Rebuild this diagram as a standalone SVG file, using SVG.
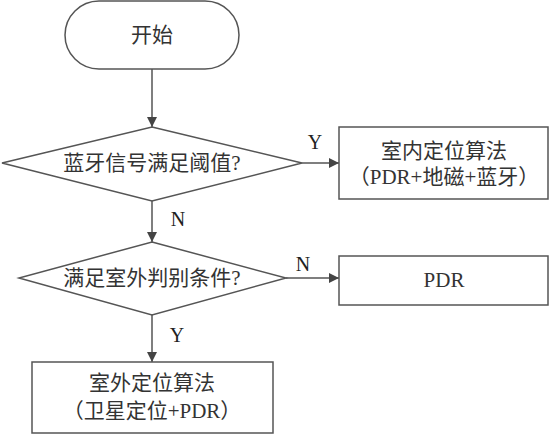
<svg xmlns="http://www.w3.org/2000/svg" width="550" height="435" viewBox="0 0 550 435">
<style>
.s{fill:#fff;stroke:#555;stroke-width:1.5}
.t{font-family:"Liberation Serif","Noto Sans CJK SC",serif;font-size:21px;fill:#333;text-anchor:middle;dominant-baseline:central}
.l{font-family:"Liberation Serif",serif;font-size:20px;fill:#222;text-anchor:middle;dominant-baseline:central}
.c{stroke:#555;stroke-width:1.5;fill:none;marker-end:url(#a)}
</style>
<defs>
<marker id="a" viewBox="0 0 10 10" refX="10" refY="5" markerWidth="7" markerHeight="7" markerUnits="strokeWidth" orient="auto">
<path d="M0,0 L10,5 L0,10 Z" fill="#444"/>
</marker>
</defs>
<g id="connectors">
<line class="c" x1="152" y1="69" x2="152" y2="127"/>
<line class="c" x1="302" y1="163" x2="339" y2="163"/>
<line class="c" x1="152" y1="201" x2="152" y2="242"/>
<line class="c" x1="286" y1="278" x2="339" y2="278"/>
<line class="c" x1="152" y1="315" x2="152" y2="362"/>
<text class="l" x="315" y="142">Y</text>
<text class="l" x="178" y="219">N</text>
<text class="l" x="303" y="264">N</text>
<text class="l" x="177" y="335">Y</text>
</g>
<g id="start">
<rect class="s" x="65" y="1" width="174" height="68" rx="34" ry="34"/>
<text class="t" x="152" y="35">开始</text>
</g>
<g id="decision1">
<polygon class="s" points="152,127 302,163 152,201 2,163"/>
<text class="t" x="152" y="163">蓝牙信号满足阈值?</text>
</g>
<g id="indoor">
<rect class="s" x="339" y="127" width="209" height="72"/>
<text class="t" x="444" y="151">室内定位算法</text>
<text class="t" x="444" y="177">（PDR+地磁+蓝牙）</text>
</g>
<g id="decision2">
<polygon class="s" points="152,242 286,278 152,315 19,278"/>
<text class="t" x="152" y="278">满足室外判别条件?</text>
</g>
<g id="pdr">
<rect class="s" x="339" y="256" width="209" height="49"/>
<text class="t" x="444" y="280">PDR</text>
</g>
<g id="outdoor">
<rect class="s" x="32" y="362" width="241" height="71"/>
<text class="t" x="152" y="383">室外定位算法</text>
<text class="t" x="152" y="411">（卫星定位+PDR）</text>
</g>
</svg>
